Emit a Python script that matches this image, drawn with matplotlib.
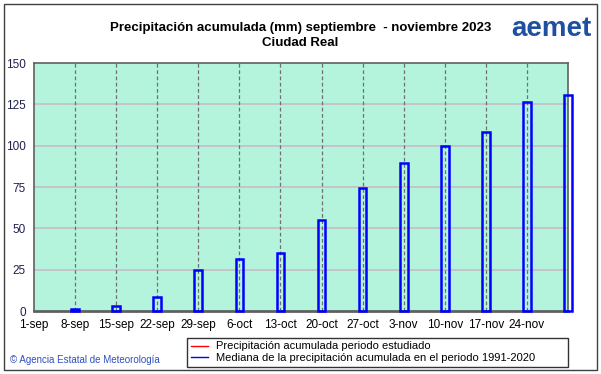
import matplotlib.pyplot as plt
from matplotlib.lines import Line2D
from matplotlib.patches import Rectangle

plt.rcParams['font.family'] = ['Liberation Sans', 'DejaVu Sans']

# days since 1-sep for each weekly tick
tick_days = [0, 7, 14, 21, 28, 35, 42, 49, 56, 63, 70, 77, 84]
tick_labels = ['1-sep', '8-sep', '15-sep', '22-sep', '29-sep', '6-oct', '13-oct',
               '20-oct', '27-oct', '3-nov', '10-nov', '17-nov', '24-nov']

# median accumulated precipitation 1991-2020 (mm), weekly
median_days = [7, 14, 21, 28, 35, 42, 49, 56, 63, 70, 77, 84, 91]
median_vals = [1, 3, 8.5, 25, 31.5, 35, 55, 74.5, 89.5, 99.5, 108.5, 126.5, 130.5]

# observed accumulated precipitation in studied period (nothing plotted)
obs_days = []
obs_vals = []

fig = plt.figure(figsize=(6.01, 3.74), dpi=100)
fig.patches.append(Rectangle((4/601, 4/374), 593/601, 366/374, transform=fig.transFigure,
                             fill=False, edgecolor='#404040', lw=1))

ax = fig.add_axes([34/601, 63/374, 534/601, 248/374])
ax.set_facecolor('#b4f4dc')
ax.set_xlim(0, 91)
ax.set_ylim(0, 150)

for y in [25, 50, 75, 100, 125]:
    ax.axhline(y, color='#c8bcc8', lw=1.2, zorder=1)
for d in tick_days[1:]:
    ax.axvline(d, color='#707070', lw=0.9, ls=(0, (3, 2)), zorder=1)

ax.bar(median_days, median_vals, width=1.3, facecolor='none', edgecolor='#0000ff',
       lw=1.8, zorder=3, clip_on=False)
ax.plot(obs_days, obs_vals, color='red', lw=1)

ax.set_xticks(tick_days)
ax.set_xticklabels(tick_labels, fontsize=8.5)
ax.set_yticks([0, 25, 50, 75, 100, 125, 150])
ax.set_yticklabels(['0', '25', '50', '75', '100', '125', '150'], fontsize=8.5, color='#202050')
ax.tick_params(length=0, pad=6)
for s in ax.spines.values():
    s.set_color('#606060')
    s.set_linewidth(1.2)
ax.spines['bottom'].set_linewidth(2)

fig.text(0.5, 346/374, 'Precipitación acumulada (mm) septiembre  - noviembre 2023',
         ha='center', va='center', fontsize=9.5, fontweight='bold')
fig.text(0.5, 331/374, 'Ciudad Real', ha='center', va='center', fontsize=9.5, fontweight='bold')
fig.text(592/601, 345/374, 'aemet', ha='right', va='center', fontsize=20,
         fontweight='bold', color='#1f4fa0')

fig.text(10/601, 14/374, '\u00a9 Agencia Estatal de Meteorología', ha='left', va='center',
         fontsize=7, color='#3050c0')

handles = [Line2D([], [], color='red', lw=1),
           Line2D([], [], color='#0000ff', lw=1)]
leg = fig.legend(handles, ['Precipitación acumulada periodo estudiado',
                           'Mediana de la precipitación acumulada en el periodo 1991-2020'],
                 loc='lower left', bbox_to_anchor=(187/601, 7/374, 381/601, 30/374),
                 mode='expand', fontsize=8, frameon=True, fancybox=False,
                 handlelength=1.5, handletextpad=0.8, borderpad=0.35, labelspacing=0.15,
                 borderaxespad=0)
leg.get_frame().set_edgecolor('black')
leg.get_frame().set_linewidth(1)

fig.savefig('out.png', dpi=100)
